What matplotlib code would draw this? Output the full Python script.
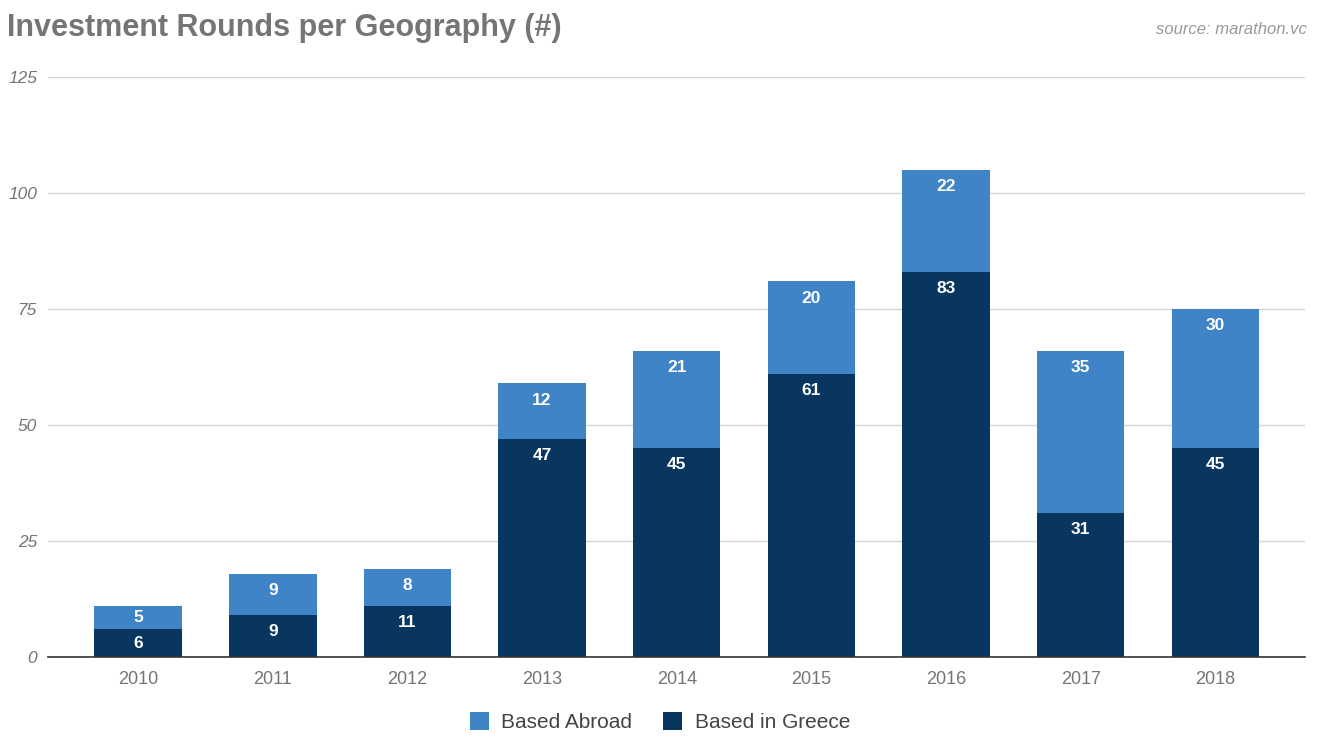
import matplotlib
matplotlib.use("Agg")
import matplotlib.pyplot as plt
import numpy as np

years = ["2010", "2011", "2012", "2013", "2014", "2015", "2016", "2017", "2018"]
greece = [6, 9, 11, 47, 45, 61, 83, 31, 45]
abroad = [5, 9, 8, 12, 21, 20, 22, 35, 30]
yticks = [0, 25, 50, 75, 100, 125]

c_greece = "#08365f"
c_abroad = "#3f84c6"
gray = "#757575"

plt.rcParams['font.family'] = ['Liberation Sans', 'DejaVu Sans']

fig = plt.figure(figsize=(13.2, 7.5), dpi=100)
ax = fig.add_axes([0.0364, 0.124, 0.9525, 0.773])

x = np.arange(len(years))
w = 0.65
ax.bar(x, greece, width=w, color=c_greece, label="Based in Greece", zorder=3)
ax.bar(x, abroad, width=w, bottom=greece, color=c_abroad, label="Based Abroad", zorder=3)

def label_y(bottom, h):
    return bottom + h - min(3.6, h / 2)

for xi, g, a in zip(x, greece, abroad):
    ax.text(xi, label_y(0, g), str(g), ha="center", va="center",
            color="white", fontsize=12.5, fontweight="bold", zorder=4)
    ax.text(xi, label_y(g, a), str(a), ha="center", va="center",
            color="white", fontsize=12.5, fontweight="bold", zorder=4)

ax.set_xlim(-0.669, 8.669)
ax.set_ylim(0, 125)
ax.set_yticks(yticks)
ax.set_yticklabels([str(v) for v in yticks], fontstyle="italic", color=gray, fontsize=12.5)
ax.set_xticks(x)
ax.set_xticklabels(years, color=gray, fontsize=13)
ax.tick_params(axis="both", length=0)
ax.tick_params(axis="y", pad=8)
ax.tick_params(axis="x", pad=10)
ax.grid(axis="y", color="#d6d6d6", linewidth=1, zorder=0)
for s in ["top", "right", "left"]:
    ax.spines[s].set_visible(False)
ax.spines["bottom"].set_color("#333333")
ax.spines["bottom"].set_linewidth(1.2)
ax.spines["bottom"].set_zorder(5)

fig.text(0.005, 0.963, "Investment Rounds per Geography (#)", fontsize=22, fontweight="bold",
         color=gray, ha="left", va="center")
fig.text(0.99, 0.96, "source: marathon.vc", fontsize=12, fontstyle="italic", color="#999999",
         ha="right", va="center")

handles, labels = ax.get_legend_handles_labels()
leg = fig.legend(handles[::-1], labels[::-1], loc="center", bbox_to_anchor=(0.5, 0.037), ncol=2,
                 frameon=False, fontsize=15, handlelength=0.9, handleheight=0.9, columnspacing=1.5,
                 handletextpad=0.6)
for t in leg.get_texts():
    t.set_color("#444444")

fig.savefig("out.png", dpi=100)
